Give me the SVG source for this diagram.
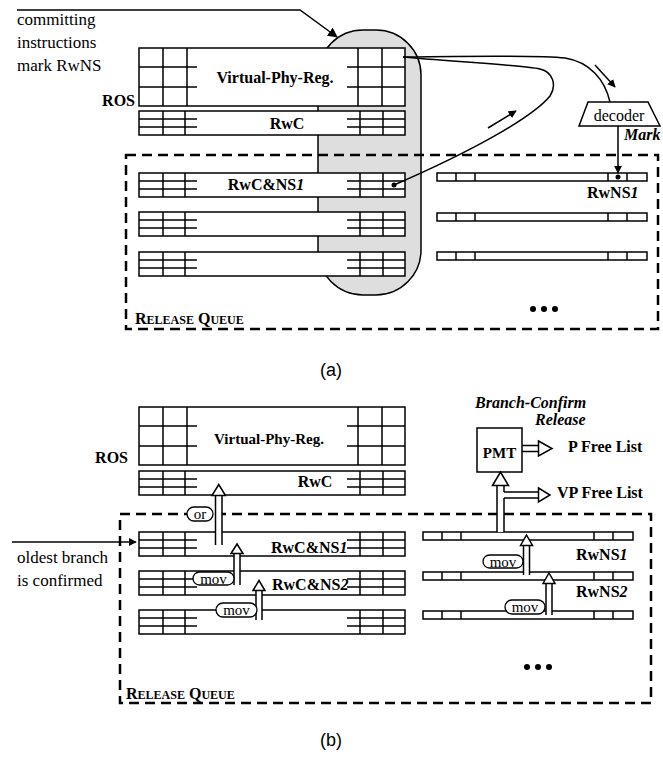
<svg xmlns="http://www.w3.org/2000/svg" xmlns:xlink="http://www.w3.org/1999/xlink" width="663" height="763" viewBox="0 0 663 763">
<style>
.ln{fill:none;stroke:#000;stroke-width:1.5}
.box{fill:#fff;stroke:#000;stroke-width:1.5}
.dash{fill:none;stroke:#000;stroke-width:2.5;stroke-dasharray:10,6}
.lb{font-family:"Liberation Serif",serif;font-weight:bold;font-size:16px;fill:#000}
.tx{font-family:"Liberation Serif",serif;font-size:17px;fill:#000}
.sm{font-family:"Liberation Serif",serif;font-size:15px;fill:#000}
.cap{font-family:"Liberation Sans",sans-serif;font-size:18px;fill:#000}
.pill{fill:#fff;stroke:#000;stroke-width:1.3}
.hol{fill:#fff;stroke:none}
</style>
<defs>
<marker id="ah" viewBox="0 0 10 10" refX="9" refY="5" markerWidth="8" markerHeight="8" markerUnits="userSpaceOnUse" orient="auto">
<path d="M0,0 L10,5 L0,10 z" fill="#000"/>
</marker>
<marker id="ah2" viewBox="0 0 10 10" refX="9" refY="5" markerWidth="10" markerHeight="10" markerUnits="userSpaceOnUse" orient="auto">
<path d="M0,0 L10,5 L0,10 z" fill="#000"/>
</marker>
<g id="vpr">
<rect class="box" x="0" y="0" width="266" height="58"/>
<path class="ln" d="M24,0V58 M48,0V58 M0,19H58 M0,39H58 M219,0V58 M243,0V58 M208,19H266 M208,39H266"/>
</g>
<g id="qrow">
<rect class="box" x="0" y="0" width="266" height="24"/>
<path class="ln" d="M24,0V24 M46,0V24 M0,8H58 M0,16H58 M221,0V24 M244,0V24 M208,8H266 M208,16H266"/>
</g>
<g id="nrow">
<rect class="box" x="0" y="0" width="210" height="8"/>
<path class="ln" d="M19,0V8 M38,0V8 M171,0V8 M190,0V8"/>
</g>
</defs>
<rect width="663" height="763" fill="#fff"/>

<!-- ===== (a) ===== -->
<g id="a-gray">
<rect x="318" y="30" width="103" height="265" rx="45" ry="45" fill="#dedede" stroke="#000" stroke-width="1.5"/>
</g>
<g id="a-rq">
<rect class="dash" x="126" y="155" width="532" height="174"/>
<text class="lb" x="135" y="324"><tspan>R</tspan><tspan style="font-size:12px">ELEASE</tspan><tspan> Q</tspan><tspan style="font-size:12px">UEUE</tspan></text>
</g>
<g id="a-vpr">
<use xlink:href="#vpr" x="139" y="48"/>
<text class="lb" x="275" y="83" text-anchor="middle">Virtual-Phy-Reg.</text>
<text class="lb" x="135" y="106" text-anchor="end">ROS</text>
</g>
<g id="a-rwc">
<use xlink:href="#qrow" x="139" y="111"/>
<text class="lb" x="287" y="129" text-anchor="middle">RwC</text>
</g>
<g id="a-row1">
<use xlink:href="#qrow" x="139" y="173"/>
<text class="lb" x="266" y="190" text-anchor="middle">RwC&amp;NS<tspan font-style="italic">1</tspan></text>
</g>
<g id="a-row2"><use xlink:href="#qrow" x="139" y="212"/></g>
<g id="a-row3"><use xlink:href="#qrow" x="139" y="252"/></g>
<g id="a-nrow1">
<use xlink:href="#nrow" x="437" y="173"/>
<text class="lb" x="587" y="198">RwNS<tspan font-style="italic">1</tspan></text>
</g>
<g id="a-nrow2"><use xlink:href="#nrow" x="437" y="213"/></g>
<g id="a-nrow3"><use xlink:href="#nrow" x="437" y="252"/></g>
<g id="a-dots">
<circle cx="533" cy="309" r="3"/><circle cx="544" cy="309" r="3"/><circle cx="555" cy="309" r="3"/>
</g>
<g id="a-decoder">
<polygon points="588,102 648,102 660,126 579,126" fill="#fff" stroke="#000" stroke-width="1.5"/>
<text class="sm" x="619" y="121" text-anchor="middle" style="font-size:16px">decoder</text>
<text class="lb" x="624" y="140" font-style="italic">Mark</text>
</g>
<g id="a-note">
<text class="tx" x="17" y="25">committing</text>
<text class="tx" x="17" y="48">instructions</text>
<text class="tx" x="17" y="71">mark RwNS</text>
</g>
<g id="a-connectors">
<path class="ln" d="M17,10 L300,10 L337,37" marker-end="url(#ah2)"/>
<path class="ln" d="M403,57 C470,56 540,55 565,58 C590,62 605,80 610,102"/>
<path class="ln" d="M403,57 C470,63 520,65 540,69 C553,72 557,85 550,96 C532,118 470,152 394,185"/>
<circle cx="394" cy="185" r="2.5"/>
<path class="ln" d="M488,128 L516,111" marker-end="url(#ah)"/>
<path class="ln" d="M595,65 L615,87" marker-end="url(#ah)"/>
<path class="ln" d="M618,126 L618,173" marker-end="url(#ah)"/>
<circle cx="618" cy="177" r="2.5"/>
</g>
<text class="cap" x="331" y="376" text-anchor="middle">(a)</text>

<!-- ===== (b) ===== -->
<g id="b-rq">
<rect class="dash" x="120" y="514" width="531" height="189"/>
<text class="lb" x="126" y="699"><tspan>R</tspan><tspan style="font-size:12px">ELEASE</tspan><tspan> Q</tspan><tspan style="font-size:12px">UEUE</tspan></text>
</g>
<g id="b-vpr">
<use xlink:href="#vpr" x="139" y="407"/>
<text class="lb" x="269" y="444" text-anchor="middle" style="font-size:15px">Virtual-Phy-Reg.</text>
<text class="lb" x="128" y="463" text-anchor="end">ROS</text>
</g>
<g id="b-rwc">
<use xlink:href="#qrow" x="139" y="471"/>
<text class="lb" x="315" y="487" text-anchor="middle">RwC</text>
</g>
<g id="b-row1">
<use xlink:href="#qrow" x="139" y="532"/>
<text class="lb" x="271" y="553">RwC&amp;NS<tspan font-style="italic">1</tspan></text>
</g>
<g id="b-row2">
<use xlink:href="#qrow" x="139" y="571"/>
<text class="lb" x="272" y="590">RwC&amp;NS<tspan font-style="italic">2</tspan></text>
</g>
<g id="b-row3"><use xlink:href="#qrow" x="139" y="610"/></g>
<g id="b-nrow1">
<use xlink:href="#nrow" x="423" y="532"/>
<text class="lb" x="576" y="560">RwNS<tspan font-style="italic">1</tspan></text>
</g>
<g id="b-nrow2">
<use xlink:href="#nrow" x="423" y="572"/>
<text class="lb" x="576" y="597">RwNS<tspan font-style="italic">2</tspan></text>
</g>
<g id="b-nrow3"><use xlink:href="#nrow" x="423" y="611"/></g>
<g id="b-dots">
<circle cx="527" cy="667" r="3"/><circle cx="538" cy="667" r="3"/><circle cx="549" cy="667" r="3"/>
</g>
<g id="b-pmt">
<rect class="box" x="477" y="428" width="45" height="44"/>
<text class="lb" x="499.5" y="458" text-anchor="middle" style="font-size:15px">PMT</text>
</g>
<g id="b-labels">
<text class="lb" x="475" y="408" font-style="italic">Branch-Confirm</text>
<text class="lb" x="535" y="425" font-style="italic">Release</text>
<text class="lb" x="568" y="452">P Free List</text>
<text class="lb" x="557" y="498">VP Free List</text>
<text class="tx" x="17" y="563">oldest branch</text>
<text class="tx" x="17" y="586">is confirmed</text>
</g>
<g id="b-connectors">
<path class="ln" d="M12,542 L136,542" marker-end="url(#ah)"/>
<rect class="hol" x="215.5" y="495" width="6.5" height="50"/>
<path class="ln" d="M215.5,545V495 M222,545V495"/>
<polygon points="212,495.5 218.75,484.5 225.5,495.5" fill="#fff" stroke="#000" stroke-width="1.5"/>
<rect class="hol" x="234" y="553" width="6" height="32"/>
<path class="ln" d="M234,585V553 M240,585V553"/>
<polygon points="231,553.5 237,544 243,553.5" fill="#fff" stroke="#000" stroke-width="1.5"/>
<rect class="hol" x="256" y="590" width="6" height="30"/>
<path class="ln" d="M256,620V590 M262,620V590"/>
<polygon points="253,590.5 259,580.5 265,590.5" fill="#fff" stroke="#000" stroke-width="1.5"/>
<rect class="hol" x="523.5" y="545" width="6" height="30"/>
<path class="ln" d="M523.5,575V545 M529.5,575V545"/>
<polygon points="520.5,545.5 526.5,535 532.5,545.5" fill="#fff" stroke="#000" stroke-width="1.5"/>
<rect class="hol" x="546" y="583" width="6" height="32"/>
<path class="ln" d="M546,615V583 M552,615V583"/>
<polygon points="543,583.5 549,573 555,583.5" fill="#fff" stroke="#000" stroke-width="1.5"/>
<rect class="hol" x="497" y="485" width="7" height="47"/>
<path class="ln" d="M497,532V485 M504,532V498 M504,492V485"/>
<polygon points="492.5,485.5 500.5,472 508.5,485.5" fill="#fff" stroke="#000" stroke-width="1.5"/>
<path class="ln" d="M504,492H539 M504,498H539"/>
<polygon points="538.5,488 550,495 538.5,502" fill="#fff" stroke="#000" stroke-width="1.5"/>
<path class="ln" d="M522,445.5H539 M522,451.5H539"/>
<polygon points="538.5,441 552,448.5 538.5,456" fill="#fff" stroke="#000" stroke-width="1.5"/>
</g>
<g id="b-pills">
<rect class="pill" x="187" y="507" width="26" height="14" rx="7"/>
<text class="sm" x="200" y="518.5" text-anchor="middle">or</text>
<rect class="pill" x="193" y="572" width="41" height="13" rx="6.5"/>
<text class="sm" x="213.5" y="583.5" text-anchor="middle">mov</text>
<rect class="pill" x="216" y="603" width="41" height="14" rx="7"/>
<text class="sm" x="236.5" y="615" text-anchor="middle">mov</text>
<rect class="pill" x="483" y="555" width="40" height="13" rx="6.5"/>
<text class="sm" x="503" y="566.5" text-anchor="middle">mov</text>
<rect class="pill" x="505" y="600" width="40" height="14" rx="7"/>
<text class="sm" x="525" y="611.5" text-anchor="middle">mov</text>
</g>
<text class="cap" x="331" y="746" text-anchor="middle">(b)</text>
</svg>
